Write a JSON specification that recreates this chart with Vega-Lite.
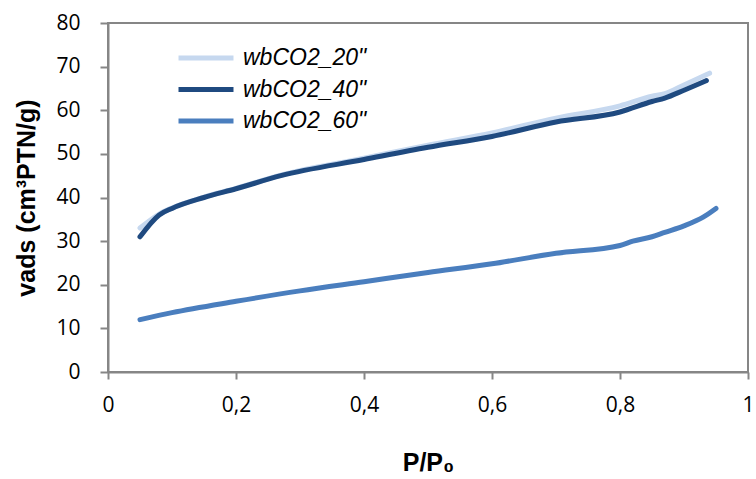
{
  "$schema": "https://vega.github.io/schema/vega-lite/v6.json",
  "autosize": "none",
  "width": 640,
  "height": 349,
  "padding": {"left": 108, "top": 23, "right": 8, "bottom": 107},
  "background": "white",
  "config": {
    "view": {"stroke": "#868686", "strokeWidth": 2}
  },
  "data": {
    "values": [
      {"s": "wbCO2_20\"", "p": 0.05, "v": 33.0},
      {"s": "wbCO2_20\"", "p": 0.08, "v": 36.2},
      {"s": "wbCO2_20\"", "p": 0.1, "v": 37.6},
      {"s": "wbCO2_20\"", "p": 0.15, "v": 40.1},
      {"s": "wbCO2_20\"", "p": 0.2, "v": 42.1},
      {"s": "wbCO2_20\"", "p": 0.27, "v": 45.1},
      {"s": "wbCO2_20\"", "p": 0.4, "v": 49.0},
      {"s": "wbCO2_20\"", "p": 0.5, "v": 52.0},
      {"s": "wbCO2_20\"", "p": 0.6, "v": 54.8},
      {"s": "wbCO2_20\"", "p": 0.7, "v": 58.2},
      {"s": "wbCO2_20\"", "p": 0.8, "v": 61.0},
      {"s": "wbCO2_20\"", "p": 0.85, "v": 63.2},
      {"s": "wbCO2_20\"", "p": 0.87, "v": 63.8},
      {"s": "wbCO2_20\"", "p": 0.9, "v": 65.8},
      {"s": "wbCO2_20\"", "p": 0.94, "v": 68.5},
      {"s": "wbCO2_40\"", "p": 0.05, "v": 31.0},
      {"s": "wbCO2_40\"", "p": 0.08, "v": 36.0},
      {"s": "wbCO2_40\"", "p": 0.1, "v": 37.5},
      {"s": "wbCO2_40\"", "p": 0.15, "v": 40.0},
      {"s": "wbCO2_40\"", "p": 0.2, "v": 42.0},
      {"s": "wbCO2_40\"", "p": 0.27, "v": 45.0},
      {"s": "wbCO2_40\"", "p": 0.4, "v": 48.7},
      {"s": "wbCO2_40\"", "p": 0.5, "v": 51.5},
      {"s": "wbCO2_40\"", "p": 0.6, "v": 54.0},
      {"s": "wbCO2_40\"", "p": 0.7, "v": 57.3},
      {"s": "wbCO2_40\"", "p": 0.8, "v": 59.6},
      {"s": "wbCO2_40\"", "p": 0.85, "v": 62.0},
      {"s": "wbCO2_40\"", "p": 0.87, "v": 62.8},
      {"s": "wbCO2_40\"", "p": 0.9, "v": 64.6},
      {"s": "wbCO2_40\"", "p": 0.935, "v": 66.8},
      {"s": "wbCO2_60\"", "p": 0.05, "v": 12.0},
      {"s": "wbCO2_60\"", "p": 0.1, "v": 13.6},
      {"s": "wbCO2_60\"", "p": 0.2, "v": 16.2},
      {"s": "wbCO2_60\"", "p": 0.3, "v": 18.6},
      {"s": "wbCO2_60\"", "p": 0.4, "v": 20.7},
      {"s": "wbCO2_60\"", "p": 0.5, "v": 22.8},
      {"s": "wbCO2_60\"", "p": 0.6, "v": 24.8},
      {"s": "wbCO2_60\"", "p": 0.7, "v": 27.2},
      {"s": "wbCO2_60\"", "p": 0.8, "v": 29.0},
      {"s": "wbCO2_60\"", "p": 0.82, "v": 30.0},
      {"s": "wbCO2_60\"", "p": 0.85, "v": 31.0},
      {"s": "wbCO2_60\"", "p": 0.87, "v": 32.0},
      {"s": "wbCO2_60\"", "p": 0.9, "v": 33.5},
      {"s": "wbCO2_60\"", "p": 0.93, "v": 35.5},
      {"s": "wbCO2_60\"", "p": 0.95, "v": 37.5}
    ]
  },
  "mark": {"type": "line", "strokeWidth": 5, "strokeCap": "round", "interpolate": "monotone"},
  "encoding": {
    "x": {
      "field": "p", "type": "quantitative",
      "scale": {"domain": [0, 1], "nice": false},
      "axis": {
        "values": [0, 0.2, 0.4, 0.6, 0.8, 1],
        "labelExpr": "replace(format(datum.value, '.1~f'), '.', ',')",
        "grid": false,
        "domainColor": "#868686",
        "domainWidth": 2,
        "tickColor": "#868686",
        "tickWidth": 2,
        "tickSize": 7,
        "labelFont": "Open Sans",
        "labelFontSize": 21,
        "labelColor": "#000000",
        "labelPadding": 15,
        "labelFlush": false,
        "title": "P/P₀",
        "titleFont": "Liberation Sans",
        "titleFontSize": 25,
        "titleFontWeight": "bold",
        "titleColor": "#000000",
        "titlePadding": 35
      }
    },
    "y": {
      "field": "v", "type": "quantitative",
      "scale": {"domain": [0, 80], "nice": false},
      "axis": {
        "values": [0, 10, 20, 30, 40, 50, 60, 70, 80],
        "grid": false,
        "domainColor": "#868686",
        "domainWidth": 2,
        "tickColor": "#868686",
        "tickWidth": 2,
        "tickSize": 8,
        "labelFont": "Open Sans",
        "labelFontSize": 21,
        "labelColor": "#000000",
        "labelPadding": 20,
        "title": "vads (cm³PTN/g)",
        "titleFont": "Liberation Sans",
        "titleFontSize": 25,
        "titleFontWeight": "bold",
        "titleColor": "#000000",
        "titlePadding": 16
      }
    },
    "color": {
      "field": "s", "type": "nominal",
      "scale": {
        "domain": ["wbCO2_20\"", "wbCO2_40\"", "wbCO2_60\""],
        "range": ["#c6d8ef", "#1f4a80", "#4a7ebe"]
      },
      "legend": {
        "title": null,
        "orient": "none",
        "legendX": 86,
        "legendY": 23,
        "symbolType": "M-3,0H3",
        "symbolStrokeWidth": 5,
        "symbolSize": 336,
        "rowPadding": 7.5,
        "labelFont": "Liberation Sans",
        "labelFontSize": 23,
        "labelFontStyle": "italic",
        "labelColor": "#000000",
        "labelOffset": 25
      }
    }
  }
}
